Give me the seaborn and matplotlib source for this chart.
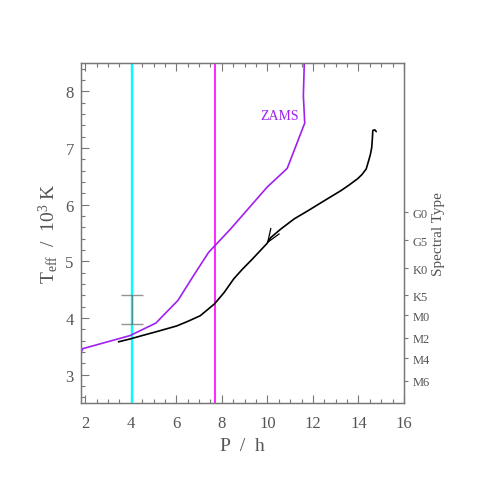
import numpy as np
import pandas as pd
import matplotlib
matplotlib.use("Agg")
import matplotlib.pyplot as plt
import seaborn as sns
from matplotlib.ticker import MultipleLocator

# ---------------- data ----------------
zams_P = [1.82, 1.90, 3.97, 5.10, 6.07, 6.76, 7.42, 8.38, 9.99, 10.87, 11.64, 11.58, 11.62]
zams_T = [3.40, 3.46, 3.69, 3.91, 4.31, 4.75, 5.16, 5.57, 6.31, 6.64, 7.44, 7.92, 8.50]

track_P = [14.78, 14.72, 14.63, 14.61, 14.58, 14.52, 14.45, 14.34, 14.15, 13.97, 13.60,
           13.24, 12.50, 11.77, 11.18, 10.59, 10.15, 9.97, 9.34, 8.90, 8.52, 8.10,
           7.68, 7.05, 6.50, 6.02, 5.14, 4.50, 3.97, 3.46]
track_T = [7.29, 7.32, 7.31, 7.16, 7.00, 6.88, 6.78, 6.63, 6.53, 6.46, 6.35,
           6.25, 6.07, 5.89, 5.75, 5.57, 5.42, 5.31, 5.04, 4.86, 4.69, 4.45,
           4.25, 4.04, 3.94, 3.86, 3.76, 3.69, 3.63, 3.58]

arrow_from = (10.15, 5.42)
arrow_to = (9.97, 5.31)

vline_P = [4.06, 7.70]
vline_colors = ["#00ffff", "#ff00ff"]

err_P = [4.06]
err_T = [4.155]
err_dT = [0.255]

spec_T = [5.87, 5.37, 4.88, 4.40, 4.05, 3.65, 3.29, 2.89]
spec_labels = ["G0", "G5", "K0", "K5", "M0", "M2", "M4", "M6"]

zams_label_pos = (10.54, 7.58)

# ---------------- style ----------------
sns.set_theme(style="ticks")
plt.rcParams["font.family"] = ["Liberation Serif", "DejaVu Serif"]
plt.rcParams["mathtext.fontset"] = "custom"
plt.rcParams["mathtext.rm"] = "Liberation Serif"
plt.rcParams["mathtext.it"] = "Liberation Serif:italic"

grey = "#777777"
tcol = "#555555"

fig = plt.figure(figsize=(4.85, 4.85), dpi=100)
ax = fig.add_axes([80.7 / 485, 1 - 404 / 485, (404 - 80.7) / 485, (404 - 64) / 485])

# vertical lines
for p, c in zip(vline_P, vline_colors):
    ax.axvline(p, color=c, lw=1.7 if c == "#00ffff" else 1.2, zorder=1)

# error bar
ax.errorbar(err_P, err_T, yerr=err_dT, fmt="none", ecolor="#666666", alpha=0.7,
            elinewidth=1.0, capsize=8, capthick=1.0, zorder=2)

zams = pd.DataFrame({"P": zams_P, "T": zams_T})
track = pd.DataFrame({"P": track_P, "T": track_T})

sns.lineplot(data=zams, x="P", y="T", sort=False, estimator=None, color="#a020f0",
             lw=1.2, ax=ax, zorder=3)
sns.lineplot(data=track, x="P", y="T", sort=False, estimator=None, color="black",
             lw=1.2, ax=ax, zorder=4)

ax.annotate("", xy=arrow_to, xytext=arrow_from,
            arrowprops=dict(arrowstyle="->,head_length=0.8,head_width=0.3",
                            color="black", lw=0.9, shrinkA=0, shrinkB=0), zorder=5)

ax.text(zams_label_pos[0], zams_label_pos[1], "ZAMS", color="#a020f0", fontsize=10,
        ha="center", va="center")

ax.set_xlim(1.8, 16)
ax.set_ylim(2.5, 8.5)
ax.xaxis.set_major_locator(MultipleLocator(2))
ax.xaxis.set_minor_locator(MultipleLocator(0.5))
ax.yaxis.set_major_locator(MultipleLocator(1))
ax.yaxis.set_minor_locator(MultipleLocator(0.2))

ax.tick_params(axis="x", which="both", direction="in", top=True, bottom=True,
               colors=grey, labelcolor=tcol, labelsize=12, pad=9)
ax.tick_params(axis="y", which="both", direction="in", left=True, right=False,
               colors=grey, labelcolor=tcol, labelsize=12, pad=5)
ax.tick_params(which="major", length=6, width=0.8)
ax.tick_params(which="minor", length=3, width=0.8)

for s in ax.spines.values():
    s.set_color(grey)
    s.set_linewidth(0.9)
    s.set_visible(True)

ax.set_xlabel("P  /  h", fontsize=14, color=tcol, labelpad=4)
ax.set_ylabel(r"T$_{\rm eff}$  /  10$^{3}$ K", fontsize=14, color=tcol, labelpad=4)

# right spectral type axis
ax2 = ax.twinx()
ax2.set_ylim(ax.get_ylim())
ax2.set_yticks(spec_T)
ax2.set_yticklabels(spec_labels)
ax2.tick_params(axis="y", direction="out", length=3, width=0.8, colors=grey,
                labelcolor=tcol, labelsize=9, pad=3)
ax2.set_ylabel("Spectral Type", fontsize=11, color=tcol, labelpad=2)
for s in ax2.spines.values():
    s.set_color(grey)
    s.set_linewidth(0.9)

fig.savefig("out.png", dpi=100)
